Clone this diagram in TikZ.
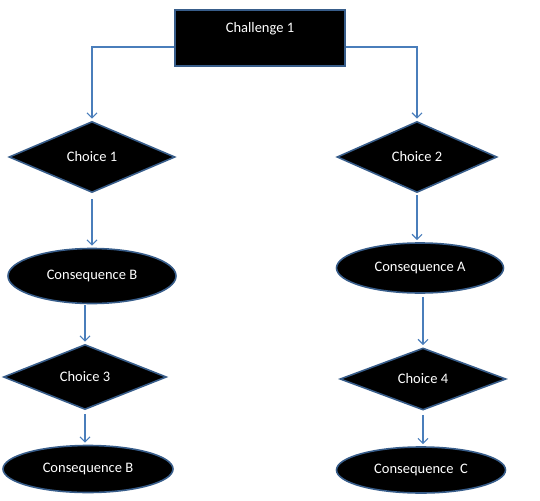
\documentclass[tikz,border=0pt]{standalone}
\usepackage{fontspec}
\setmainfont{Carlito}
\usetikzlibrary{arrows.meta,shapes.geometric}
\definecolor{flowB}{RGB}{74,126,187}
\definecolor{edgeB}{RGB}{56,93,138}

\begin{document}
\begin{tikzpicture}[x=1pt,y=-1pt,>={Straight Barb[length=5pt,width=10pt,line width=1.2pt]},
  box/.style={draw=edgeB,line width=1.6pt,fill=black,text=white,font=\fontsize{14.5}{16}\selectfont},
  chalbox/.style={box,rectangle,minimum width=170pt,minimum height=56pt,text height=9pt,text depth=19pt},
  choicebox/.style={box,diamond,inner sep=0pt},
  consbox/.style={box,ellipse,inner sep=0pt},
  flow/.style={->,draw=flowB,line width=1.2pt}]
\useasboundingbox (0,0) rectangle (540,500);
% top row
\node[chalbox] (chal) at (260,38) {Challenge 1};
\node[choicebox,minimum width=166pt,minimum height=71pt] (c1) at (92,157) {Choice 1};
\node[choicebox,minimum width=160pt,minimum height=71pt] (c2) at (417,157) {Choice 2};
% left branch
\node[consbox,minimum width=168pt,minimum height=55pt] (cb1) at (92,276) {Consequence B};
\node[choicebox,minimum width=163pt,minimum height=65pt] (c3) at (85,377) {Choice 3};
\node[consbox,minimum width=170pt,minimum height=47pt] (cb2) at (88,469) {Consequence B};
% right branch
\node[consbox,minimum width=167pt,minimum height=50pt] (ca) at (420,268) {Consequence A};
\node[choicebox,minimum width=166pt,minimum height=62pt] (c4) at (423,379) {Choice 4};
\node[consbox,minimum width=169pt,minimum height=46pt] (cc) at (421,470) {Consequence~~C};
% connectors
\draw[flow,shorten >=2pt] ([yshift=-9pt]chal.west) -| (c1.north);
\draw[flow,shorten >=2pt] ([yshift=-9pt]chal.east) -| (c2.north);
\draw[flow,shorten <=6pt,shorten >=2pt] (c1.south) -- (cb1.north);
\draw[flow,shorten <=2pt,shorten >=2pt] (c2.south) -- (ca.north -| c2.south);
\draw[flow,shorten <=1pt,shorten >=2pt] (c3.north |- cb1.south) -- (c3.north);
\draw[flow,shorten <=3pt,shorten >=2pt] (c4.north |- ca.south) -- (c4.north);
\draw[flow,shorten <=4pt,shorten >=2pt] (c3.south) -- (cb2.north -| c3.south);
\draw[flow,shorten <=4pt,shorten >=2pt] (c4.south) -- (cc.north -| c4.south);
\end{tikzpicture}
\end{document}
